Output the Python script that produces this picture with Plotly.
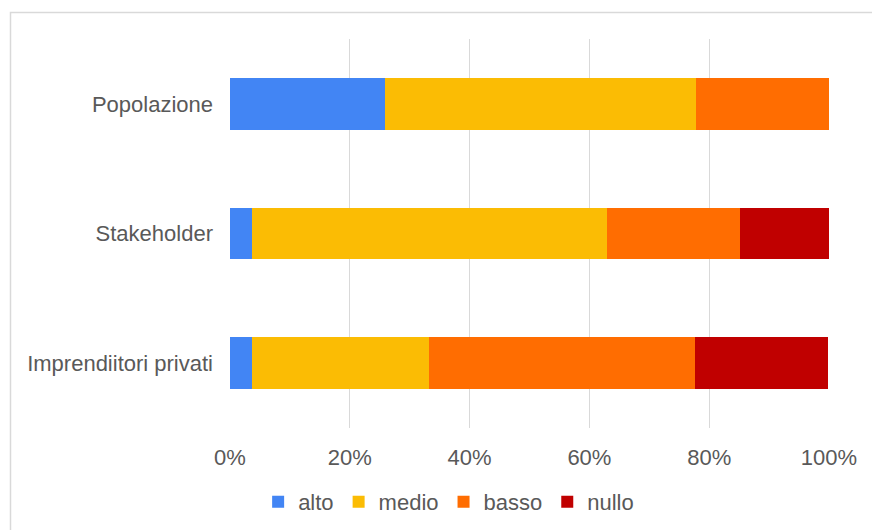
import plotly.graph_objects as go

categories = ["Popolazione", "Stakeholder", "Imprendiitori privati"]
series_names = ["alto", "medio", "basso", "nullo"]
alto = [25.9, 3.7, 3.7]
medio = [51.9, 59.3, 29.6]
basso = [22.2, 22.2, 44.4]
nullo = [0.0, 14.8, 22.2]
colors = ["#4285F4", "#FBBC04", "#FF6D01", "#C00000"]
tick_vals = [0, 20, 40, 60, 80, 100]
tick_text = ["0%", "20%", "40%", "60%", "80%", "100%"]

values = [alto, medio, basso, nullo]

fig = go.Figure()
for name, vals, col in zip(series_names, values, colors):
    fig.add_trace(go.Bar(
        y=categories, x=vals, name=name, orientation="h",
        marker=dict(color=col, line=dict(width=0)),
    ))

font_family = "Liberation Sans, Arial, sans-serif"
fig.update_layout(
    width=872, height=530,
    barmode="stack", bargap=0.6,
    margin=dict(l=230, r=43, t=39, b=102, autoexpand=False),
    paper_bgcolor="white", plot_bgcolor="white",
    font=dict(family=font_family, size=22, color="#595959"),
    showlegend=True,
    legend=dict(orientation="h", x=0.365, xanchor="center", y=-0.19, yanchor="middle",
                font=dict(size=22, color="#595959"), traceorder="normal",
                itemwidth=30, tracegroupgap=0),
    xaxis=dict(range=[0, 100], tickvals=tick_vals, ticktext=tick_text,
               showgrid=True, gridcolor="#d9d9d9", gridwidth=1,
               zeroline=False, showline=False, ticks="",
               ticklabelstandoff=14, fixedrange=True),
    yaxis=dict(autorange="reversed", showgrid=False, zeroline=False, showline=False,
               ticks="", ticklabelstandoff=16, fixedrange=True),
    shapes=[dict(type="rect", xref="paper", yref="paper",
                 x0=(10.5 - 230) / 599, x1=1.2, y0=-0.5, y1=(428 - 12.5) / 389,
                 line=dict(color="#d9d9d9", width=1.5), layer="below")],
)

fig.write_html("out.html")
